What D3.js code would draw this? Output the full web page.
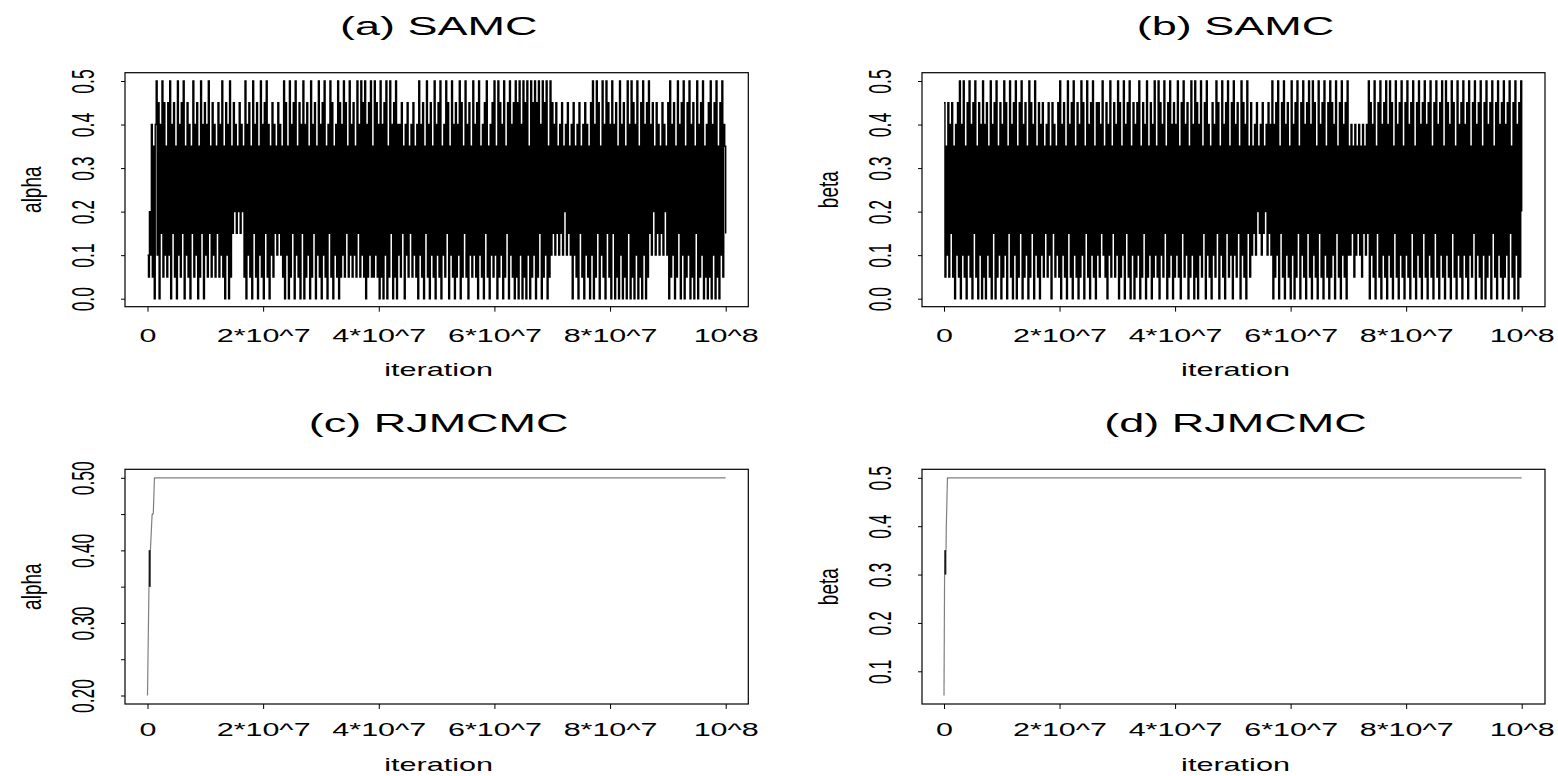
<!DOCTYPE html>
<html>
<head>
<meta charset="utf-8">
<script src="https://cdn.jsdelivr.net/npm/d3@7"></script>
<style>
  html, body { margin: 0; padding: 0; background: #fff; }
  svg { display: block; }
  text { font-family: "Liberation Sans", Arial, sans-serif; fill: #000; }
</style>
</head>
<body>
<svg id="chart" width="1558" height="776"></svg>
<script>
// ---------------- data ----------------
const xTickValues = [0, 2e7, 4e7, 6e7, 8e7, 1e8];
const xTickLabels = ["0", "2*10^7", "4*10^7", "6*10^7", "8*10^7", "10^8"];
const titles = ["(a) SAMC", "(b) SAMC", "(c) RJMCMC", "(d) RJMCMC"];
const yLabels = ["alpha", "beta", "alpha", "beta"];
const xLabel = "iteration";

const samcYTicks = [0, 0.1, 0.2, 0.3, 0.4, 0.5];
const samcYTickLabels = ["0.0", "0.1", "0.2", "0.3", "0.4", "0.5"];
const rjAlphaYTicks = [0.20, 0.25, 0.30, 0.35, 0.40, 0.45, 0.50];
const rjAlphaYTickLabels = ["0.20", "", "0.30", "", "0.40", "", "0.50"];
const rjBetaYTicks = [0.1, 0.2, 0.3, 0.4, 0.5];
const rjBetaYTickLabels = ["0.1", "0.2", "0.3", "0.4", "0.5"];

// SAMC trace of alpha (evenly spaced over 0 .. 10^8 iterations)
const samcAlpha = [
.1,.05,.2,.1,.4,.05,.35,0,.4,.5,.1,.45,0,.4,.15,.5,.05,.45,.1,.35,
.05,.45,.1,.5,0,.4,.15,.45,.05,.35,0,.5,.1,.4,.05,.45,.15,.5,0,.35,
.1,.45,.05,.4,0,.35,.15,.5,.05,.4,.1,.45,0,.35,.05,.5,.15,.4,0,.45,
.1,.4,.05,.5,.15,.35,.05,.45,.1,.4,.05,.35,.15,.45,.05,.4,.1,.5,.05,.35,
0,.45,.1,.4,0,.5,.05,.35,.15,.45,.2,.4,.15,.35,.2,.45,.15,.4,.2,.35,
.05,.5,0,.4,.1,.45,.05,.35,0,.5,.15,.4,.05,.45,0,.35,.1,.5,.05,.4,
0,.45,.15,.5,.05,.4,0,.35,.1,.45,.05,.4,.15,.35,.1,.45,.15,.4,.1,.35,
.05,.5,0,.45,.1,.35,0,.5,.05,.4,.15,.45,0,.5,.1,.35,.05,.45,0,.4,
.15,.5,0,.4,.05,.45,.1,.35,0,.5,.05,.4,.15,.45,0,.35,.1,.5,.05,.4,
0,.45,.1,.5,.05,.35,0,.4,.15,.5,.05,.45,0,.35,.1,.4,.05,.5,0,.45,
.05,.4,.1,.5,.05,.45,.15,.35,.05,.5,.1,.4,.05,.45,.1,.35,.05,.5,.15,.4,
.05,.5,.1,.45,.05,.5,0,.4,.05,.45,.1,.5,.05,.35,.05,.5,.1,.45,.05,.4,
0,.5,.05,.4,0,.45,.1,.5,0,.35,.05,.5,.15,.4,0,.45,.05,.5,0,.4,
.1,.4,.05,.45,.15,.35,0,.4,.1,.45,.05,.35,.15,.4,.05,.45,.1,.35,.05,.4,
0,.5,.1,.4,.05,.45,0,.35,.15,.5,.05,.4,0,.45,.1,.35,.05,.5,0,.4,
.1,.45,.05,.5,0,.35,.1,.4,.05,.5,.15,.45,0,.35,.1,.5,.05,.4,0,.45,
.05,.4,.1,.5,0,.45,.05,.35,.15,.5,.05,.4,0,.45,.1,.35,.05,.5,.1,.4,
.05,.45,0,.5,.1,.35,.05,.4,0,.45,.15,.5,.05,.35,0,.4,.1,.45,.05,.5,
.1,.35,0,.5,.05,.45,.1,.4,0,.5,.05,.35,.15,.45,0,.5,.1,.4,.05,.45,
0,.5,.05,.45,0,.5,.1,.4,0,.5,.05,.45,0,.5,.1,.35,0,.5,.05,.45,
.1,.5,0,.45,.05,.5,.15,.4,0,.5,.05,.45,.1,.5,0,.35,.05,.5,.1,.45,
.15,.4,.1,.45,.15,.35,.1,.4,.15,.45,.1,.35,.2,.4,.1,.45,.15,.35,.1,.4,
0,.45,.1,.35,.05,.4,0,.45,.15,.35,.05,.4,0,.45,.1,.4,.05,.35,0,.45,
.1,.5,0,.4,.05,.5,.15,.45,0,.35,.1,.5,.05,.4,0,.5,.15,.45,.05,.4,
0,.5,.15,.4,0,.45,.05,.35,0,.5,.1,.4,0,.45,.05,.35,0,.5,.15,.4,
0,.5,.05,.45,0,.4,.1,.5,0,.35,.05,.45,0,.5,.1,.4,0,.45,.05,.5,
.15,.4,.1,.45,.2,.35,.1,.45,.15,.4,.1,.35,.15,.45,.1,.4,.2,.35,.1,.45,
0,.5,.05,.4,.1,.45,0,.35,.05,.5,.15,.4,0,.45,.1,.5,0,.35,.05,.45,
.1,.5,0,.4,.05,.45,0,.35,.15,.5,0,.4,.05,.45,.1,.5,0,.35,.05,.4,
0,.45,.05,.5,0,.4,.1,.45,0,.5,.05,.35,0,.45,.1,.5,.05,.4,.35,.15
];

// SAMC trace of beta
const samcBeta = [
.45,.05,.35,.1,.45,.05,.4,.15,.45,.05,.35,0,.4,.1,.45,.05,.5,0,.4,.1,
.5,.05,.35,0,.45,.1,.5,.05,.4,0,.45,.15,.5,.05,.35,0,.45,.1,.4,0,
.5,.05,.4,0,.45,.1,.35,.05,.5,0,.4,.15,.45,0,.5,.05,.35,.1,.45,0,
.4,.05,.5,.1,.45,0,.35,.15,.5,.05,.4,0,.45,.1,.5,0,.35,.05,.45,.15,
.5,0,.4,.05,.45,.1,.35,0,.5,.05,.45,.15,.4,0,.5,.1,.35,.05,.45,0,
.4,.1,.45,.05,.35,.15,.4,.05,.45,.1,.35,0,.45,.15,.4,.05,.35,.1,.45,.05,
.5,0,.4,.1,.45,.05,.35,0,.5,.15,.4,.05,.45,0,.5,.1,.35,.05,.45,0,
.4,.05,.5,.1,.45,0,.35,.15,.5,.05,.4,0,.45,.1,.5,.05,.35,0,.45,.1,
.45,.05,.4,.15,.5,.1,.35,.05,.45,0,.4,.1,.5,.05,.35,.15,.45,.05,.4,.1,
.5,0,.45,.05,.35,.1,.5,0,.4,.15,.45,.05,.5,0,.35,.1,.45,0,.4,.05,
.45,.1,.5,0,.35,.05,.45,.15,.4,0,.5,.05,.35,.1,.45,0,.4,.05,.5,.1,
.35,.05,.5,0,.45,.1,.4,.05,.5,.15,.35,0,.45,.05,.5,.1,.4,0,.45,.05,
.4,.1,.5,.05,.35,0,.45,.15,.5,.05,.4,.1,.45,0,.35,.05,.5,.1,.4,0,
.5,.05,.45,0,.4,.1,.5,.05,.35,.15,.45,0,.5,.1,.4,.05,.35,0,.45,.1,
.4,.05,.5,.15,.45,0,.35,.1,.5,.05,.4,0,.45,.15,.5,.05,.35,.1,.45,0,
.5,.1,.4,.05,.45,.15,.35,0,.5,.1,.45,.05,.4,0,.5,.15,.35,.05,.45,.1,
.35,.15,.4,.1,.45,.2,.35,.15,.4,.1,.45,.15,.35,.2,.4,.1,.45,.15,.4,.1,
.5,0,.4,.05,.45,.1,.5,0,.35,.15,.45,.05,.5,0,.4,.1,.45,.05,.35,0,
.5,.1,.4,0,.45,.05,.5,.15,.35,0,.45,.1,.5,.05,.4,0,.45,.15,.5,.05,
.4,0,.5,.1,.45,.05,.35,0,.5,.15,.4,.05,.45,0,.5,.1,.35,.05,.45,0,
.5,.05,.45,.1,.4,0,.5,.15,.35,.05,.45,0,.5,.1,.4,.05,.45,0,.5,.1,
.35,.1,.4,.15,.35,.05,.4,.1,.35,.15,.4,.1,.35,.05,.4,.15,.35,.1,.4,.15,
.5,0,.45,.1,.4,.05,.5,0,.35,.15,.45,.05,.5,0,.4,.1,.45,.05,.5,0,
.4,.1,.5,.05,.45,0,.35,.15,.5,.05,.4,0,.45,.1,.5,.05,.35,0,.45,.1,
.5,.05,.4,0,.45,.15,.5,.05,.35,0,.45,.1,.5,.05,.4,0,.45,.15,.5,.05,
.4,0,.45,.1,.5,.05,.35,0,.45,.15,.5,.05,.4,0,.45,.1,.5,.05,.35,0,
.5,.1,.45,.05,.4,0,.5,.15,.45,.05,.35,0,.5,.1,.4,.05,.45,0,.5,.1,
.4,.05,.45,0,.5,.1,.35,.05,.45,.15,.5,0,.4,.1,.45,.05,.5,0,.35,.1,
.45,0,.5,.05,.4,.1,.45,0,.5,.15,.35,.05,.45,0,.5,.1,.4,.05,.45,0,
.5,.05,.4,.1,.45,0,.5,.15,.35,.05,.45,0,.5,.1,.4,0,.45,.05,.5,.2
];

// RJMCMC traces (iteration, value)
const rjAlphaIter  = [0,    2.5e5, 3.0e5, 3.5e5, 4.0e5, 4.5e5, 5.0e5, 8.0e5, 1.0e6, 1.2e6, 1e8];
const rjAlphaValue = [0.20, 0.35,  0.40,  0.35,  0.40,  0.35,  0.40,  0.45,  0.45,  0.50,  0.50];
const rjBetaIter   = [0,    1.0e5, 1.5e5, 2.0e5, 2.5e5, 3.0e5, 4.0e5, 5.0e5, 6.0e5, 1e8];
const rjBetaValue  = [0.05, 0.30,  0.35,  0.30,  0.35,  0.30,  0.40,  0.45,  0.50,  0.50];

// ---------------- layout ----------------
const SX = 1.74;            // horizontal stretch of the text
const panels = [
  { title: titles[0], ylab: yLabels[0], box: [125, 748.3, 72.7, 306.7], xr: [147.5, 725.7],
    ydom: [0, 0.5], yr: [298.7, 81], yt: samcYTicks, ytl: samcYTickLabels,
    kind: "samc", values: samcAlpha, titleY: 35, tickY: 342, xlabY: 376 },
  { title: titles[1], ylab: yLabels[1], box: [922, 1545, 72.7, 306.7], xr: [944, 1521.7],
    ydom: [0, 0.5], yr: [298.7, 81], yt: samcYTicks, ytl: samcYTickLabels,
    kind: "samc", values: samcBeta, titleY: 35, tickY: 342, xlabY: 376 },
  { title: titles[2], ylab: yLabels[2], box: [125, 748.3, 469.3, 704], xr: [147.5, 725.7],
    ydom: [0.2, 0.5], yr: [695.5, 477.8], yt: rjAlphaYTicks, ytl: rjAlphaYTickLabels,
    kind: "rj", iter: rjAlphaIter, values: rjAlphaValue, titleY: 432, tickY: 736.5, xlabY: 771 },
  { title: titles[3], ylab: yLabels[3], box: [922, 1545, 469.3, 704], xr: [944, 1521.7],
    ydom: [0.05, 0.5], yr: [695.5, 477.8], yt: rjBetaYTicks, ytl: rjBetaYTickLabels,
    kind: "rj", iter: rjBetaIter, values: rjBetaValue, titleY: 432, tickY: 736.5, xlabY: 771 }
];

const svg = d3.select("#chart");
svg.append("rect").attr("width", 1558).attr("height", 776).attr("fill", "#fff");

panels.forEach(p => {
  const [bx0, bx1, by0, by1] = p.box;
  const x = d3.scaleLinear().domain([0, 1e8]).range(p.xr);
  const y = d3.scaleLinear().domain(p.ydom).range(p.yr);
  const g = svg.append("g");

  // data
  if (p.kind === "samc") {
    const n = p.values.length;
    const pts = p.values.map((v, i) => [i * 1e8 / (n - 1), v]);
    g.append("path")
      .datum(pts)
      .attr("fill", "none")
      .attr("stroke", "#000")
      .attr("stroke-width", 1.4)
      .attr("d", d3.line().curve(d3.curveStepAfter).x(d => x(d[0])).y(d => y(d[1])));
  } else {
    const segs = d3.pairs(p.iter.map((it, i) => [it, p.values[i]]));
    g.selectAll("line.seg").data(segs).join("line")
      .attr("class", "seg")
      .attr("x1", d => x(d[0][0])).attr("y1", d => y(d[0][1]))
      .attr("x2", d => x(d[1][0])).attr("y2", d => y(d[1][1]))
      .attr("stroke", "#000").attr("stroke-opacity", 0.5).attr("stroke-width", 1.2);
  }

  // box
  g.append("rect")
    .attr("x", bx0).attr("y", by0).attr("width", bx1 - bx0).attr("height", by1 - by0)
    .attr("fill", "none").attr("stroke", "#000").attr("stroke-width", 1.2);

  // x axis
  const xa = g.append("g").attr("transform", `translate(0,${by1})`)
    .call(d3.axisBottom(x).tickValues(xTickValues)
      .tickFormat((d, i) => xTickLabels[i]).tickSize(5).tickSizeOuter(0));
  xa.select(".domain").remove();
  xa.selectAll("line").attr("stroke", "#000").attr("stroke-width", 1);
  xa.selectAll("text")
    .attr("y", p.tickY - by1).attr("dy", null)
    .attr("transform", `scale(${SX},1)`)
    .style("font-size", "17.5px").attr("font-family", null).attr("fill", "#000");

  // y axis
  const ya = g.append("g").attr("transform", `translate(${bx0},0)`)
    .call(d3.axisLeft(y).tickValues(p.yt)
      .tickFormat((d, i) => p.ytl[i]).tickSize(4).tickSizeOuter(0));
  ya.select(".domain").remove();
  ya.selectAll("line").attr("stroke", "#000").attr("stroke-width", 1);
  ya.selectAll("text")
    .attr("x", 0).attr("y", 0).attr("dy", null)
    .attr("text-anchor", "middle")
    .attr("transform", `translate(-31,0) scale(${SX},1) rotate(-90)`)
    .style("font-size", "17.5px").attr("font-family", null).attr("fill", "#000");

  // title
  g.append("text")
    .attr("transform", `translate(${(bx0 + bx1) / 2 + 2},${p.titleY}) scale(1.8,1)`)
    .attr("text-anchor", "middle").style("font-size", "25px")
    .text(p.title);

  // x label
  g.append("text")
    .attr("transform", `translate(${(bx0 + bx1) / 2 + 2},${p.xlabY}) scale(1.7,1)`)
    .attr("text-anchor", "middle").style("font-size", "18px")
    .text(xLabel);

  // y label
  g.append("text")
    .attr("transform", `translate(${bx0 - 84},${(by0 + by1) / 2}) scale(1.45,1) rotate(-90)`)
    .attr("text-anchor", "middle").style("font-size", "19px")
    .text(p.ylab);
});
</script>
</body>
</html>
